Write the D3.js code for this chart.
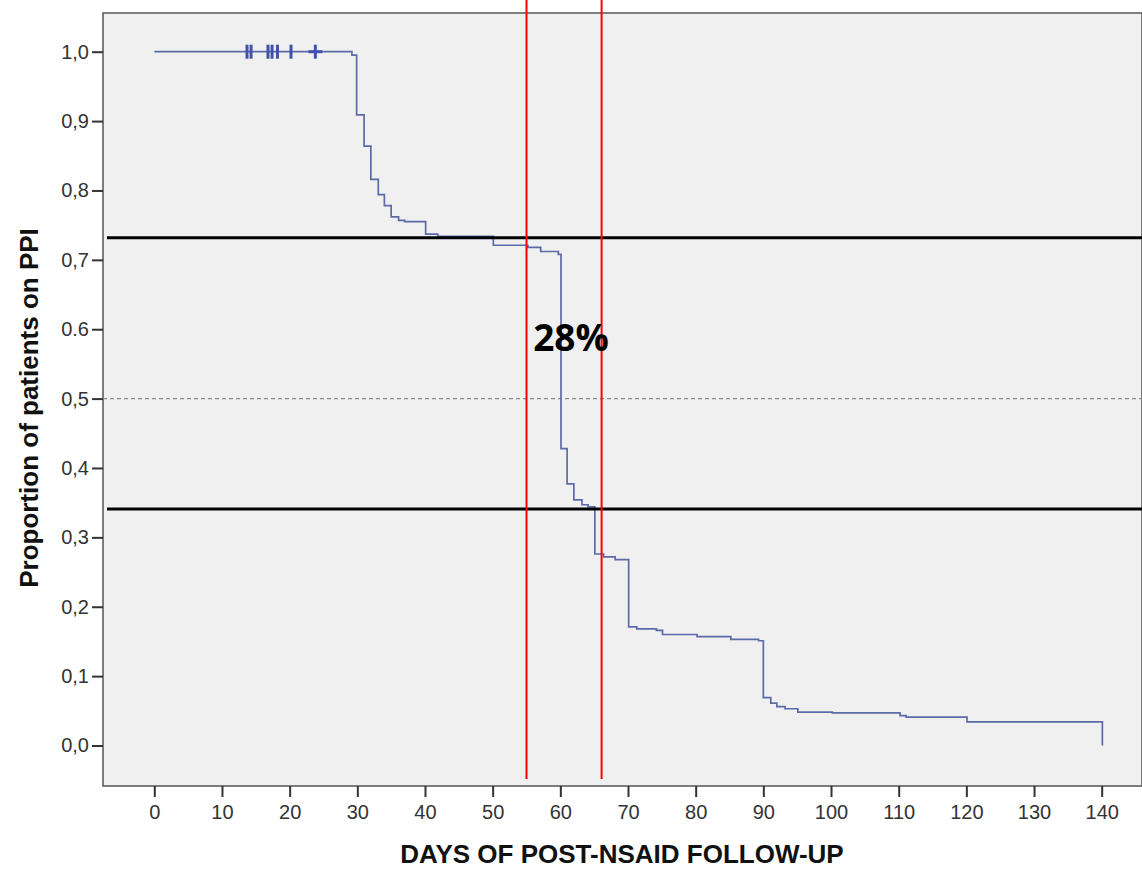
<!DOCTYPE html>
<html>
<head>
<meta charset="utf-8">
<script src="https://cdn.jsdelivr.net/npm/d3@7"></script>
<style>
  body { margin: 0; background: #fff; }
  svg text { font-family: "Liberation Sans", Arial, sans-serif; }
</style>
</head>
<body>
<script>
// KM curve (days, proportion)
const days = [0, 29.2, 29.9, 31.0, 32.0, 33.1, 34.0, 35.0, 36.1, 37.0, 40.1, 41.9, 50.1, 55.2, 57.1, 59.7, 60.1,
  61.0, 62.0, 63.2, 64.1, 65.1, 66.4, 68.1, 70.1, 71.3, 74.2, 75.1, 80.2, 85.2, 89.3, 90.0, 91.1, 92.0, 93.2,
  95.1, 100.2, 110.2, 111.1, 120.1, 140.1]
const surv = [1.0, 0.995, 0.909, 0.864, 0.816, 0.794, 0.778, 0.762, 0.757, 0.755, 0.737, 0.734, 0.721, 0.718,
  0.712, 0.708, 0.428, 0.377, 0.354, 0.347, 0.344, 0.276, 0.272, 0.268, 0.171, 0.168, 0.166, 0.160, 0.157,
  0.153, 0.151, 0.069, 0.061, 0.056, 0.053, 0.048, 0.047, 0.043, 0.041, 0.034, 0.0]

// censored observations
const censorDays = [13.7, 14.3, 16.8, 17.4, 18.2, 20.2]
const crossDays = [23.8]

const xTicks = d3.range(0, 141, 10)
const yTicks = [0, 0.1, 0.2, 0.3, 0.4, 0.5, 0.6, 0.7, 0.8, 0.9, 1.0]
const yTickLabels = ['0,0', '0,1', '0,2', '0,3', '0,4', '0,5', '0.6', '0,7', '0,8', '0,9', '1,0']

// annotations drawn on top
const redDays = [55.0, 66.1]
const blackLevels = [0.732, 0.341]
const medianLevel = 0.5
const annotation = '28%'

const width = 1142
const height = 870
const frame = { left: 103, top: 13, bottom: 786 }

const svg = d3.select('body').append('svg')
  .attr('width', width)
  .attr('height', height)

const x = d3.scaleLinear().domain([0, 140]).range([154.3, 1101.7])
const y = d3.scaleLinear().domain([0, 1]).range([745.5, 51.7])

// plot background
svg.append('rect')
  .attr('x', frame.left).attr('y', frame.top)
  .attr('width', width - frame.left).attr('height', frame.bottom - frame.top)
  .attr('fill', '#f0f0f0')
  .attr('stroke', '#555').attr('stroke-width', 1.5)

// axes
const yaxis = d3.axisLeft(y).tickValues(yTicks)
  .tickFormat((d, i) => yTickLabels[i]).tickSize(11).tickPadding(3)
const g_yaxis = svg.append('g').attr('transform', `translate(${frame.left},0)`).call(yaxis)

const xaxis = d3.axisBottom(x).tickValues(xTicks).tickSize(11).tickPadding(8)
const g_xaxis = svg.append('g').attr('transform', `translate(0,${frame.bottom})`).call(xaxis)

g_yaxis.select('.domain').remove()
g_xaxis.select('.domain').remove()
g_yaxis.attr('font-size', null)
g_xaxis.attr('font-size', null)
svg.selectAll('.tick line').attr('stroke', '#333').attr('stroke-width', 2)
svg.selectAll('.tick text')
  .attr('fill', '#333')
  .style('font-size', '20px')

// median reference line
svg.append('line')
  .attr('x1', frame.left).attr('x2', width)
  .attr('y1', y(medianLevel)).attr('y2', y(medianLevel))
  .attr('stroke', '#8a8a8a').attr('stroke-width', 1.3)
  .attr('stroke-dasharray', '4,3')

// step curve
const line = d3.line()
  .x(i => x(days[i]))
  .y(i => y(surv[i]))
  .curve(d3.curveStepAfter)

svg.append('path')
  .datum(d3.range(days.length))
  .attr('d', line)
  .attr('fill', 'none')
  .attr('stroke', '#5d6aa8')
  .attr('stroke-width', 1.7)

// censor ticks
svg.selectAll('.censor')
  .data(censorDays)
  .join('line')
  .attr('class', 'censor')
  .attr('x1', d => x(d)).attr('x2', d => x(d))
  .attr('y1', y(1) - 7).attr('y2', y(1) + 7)
  .attr('stroke', '#3f51a8').attr('stroke-width', 3)

crossDays.forEach(d => {
  svg.append('line')
    .attr('x1', x(d)).attr('x2', x(d))
    .attr('y1', y(1) - 7).attr('y2', y(1) + 7)
    .attr('stroke', '#3f51a8').attr('stroke-width', 3)
  svg.append('line')
    .attr('x1', x(d) - 7).attr('x2', x(d) + 7)
    .attr('y1', y(1)).attr('y2', y(1))
    .attr('stroke', '#3f51a8').attr('stroke-width', 3)
})

// black horizontal markers
svg.selectAll('.level')
  .data(blackLevels)
  .join('line')
  .attr('class', 'level')
  .attr('x1', 107).attr('x2', width)
  .attr('y1', d => y(d)).attr('y2', d => y(d))
  .attr('stroke', '#000').attr('stroke-width', 3)

// red vertical markers
svg.selectAll('.red')
  .data(redDays)
  .join('line')
  .attr('class', 'red')
  .attr('x1', d => x(d)).attr('x2', d => x(d))
  .attr('y1', 0).attr('y2', 779)
  .attr('stroke', '#ff0000').attr('stroke-width', 2)

svg.append('text')
  .attr('x', 571).attr('y', 351)
  .attr('text-anchor', 'middle')
  .style('font-family', '"Open Sans", "Noto Sans", sans-serif')
  .style('font-weight', 700)
  .style('font-size', '37px')
  .text(annotation)

// axis titles
svg.append('text')
  .attr('transform', 'translate(38,408) rotate(-90)')
  .attr('text-anchor', 'middle')
  .style('font-weight', 700)
  .style('font-size', '26px')
  .attr('fill', '#111')
  .text('Proportion of patients on PPI')

svg.append('text')
  .attr('x', 622).attr('y', 863)
  .attr('text-anchor', 'middle')
  .style('font-weight', 700)
  .style('font-size', '26px')
  .attr('fill', '#111')
  .text('DAYS OF POST-NSAID FOLLOW-UP')
</script>
</body>
</html>
